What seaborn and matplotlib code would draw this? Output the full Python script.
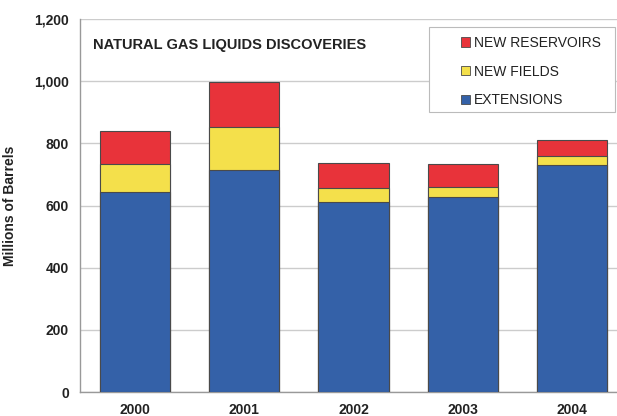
import numpy as np
import pandas as pd
import matplotlib
matplotlib.use("Agg")
import matplotlib.pyplot as plt
from matplotlib.patches import Patch, Rectangle
from matplotlib.ticker import FuncFormatter
import seaborn as sns

years = ["2000", "2001", "2002", "2003", "2004"]
extensions = [644, 715, 611, 627, 731]
new_fields = [90, 138, 46, 33, 27]
new_reservoirs = [105, 144, 79, 74, 54]

colors = {"EXTENSIONS": "#3461A8", "NEW FIELDS": "#F4E04B", "NEW RESERVOIRS": "#E8333A"}

df = pd.DataFrame({"year": years, "EXTENSIONS": extensions,
                   "NEW FIELDS": new_fields, "NEW RESERVOIRS": new_reservoirs})
df["top_fields"] = df["EXTENSIONS"] + df["NEW FIELDS"]
df["top_res"] = df["top_fields"] + df["NEW RESERVOIRS"]

sns.set_theme(style="white")
plt.rcParams['font.family'] = ['Liberation Sans', 'DejaVu Sans']

fig = plt.figure(figsize=(6.17, 4.16), dpi=100)
W, H = 617, 416
ax = fig.add_axes([80 / W, (H - 392) / H, 547 / W, (392 - 19) / H])

edge = "#4a4a4a"
for col, name in [("top_res", "NEW RESERVOIRS"), ("top_fields", "NEW FIELDS"), ("EXTENSIONS", "EXTENSIONS")]:
    sns.barplot(data=df, x="year", y=col, color=colors[name], saturation=1,
                width=0.64, edgecolor=edge, linewidth=0.8, ax=ax, zorder=3)

ax.set_ylim(0, 1200)
ax.set_xlim(-0.5, 4.5)
ax.set_yticks(np.arange(0, 1201, 200))
ax.yaxis.set_major_formatter(FuncFormatter(lambda v, p: f"{int(v):,}"))
ax.grid(axis="y", color="#cccccc", linewidth=1.0, zorder=0)
ax.set_axisbelow(True)
for s in ["top", "right"]:
    ax.spines[s].set_visible(False)
for s in ["left", "bottom"]:
    ax.spines[s].set_color("#999999")
    ax.spines[s].set_linewidth(1.0)

ax.tick_params(axis="both", labelsize=10, colors="#222222", length=0, pad=8)
for lbl in ax.get_xticklabels() + ax.get_yticklabels():
    lbl.set_fontweight("bold")
ax.set_xlabel("")
ax.set_ylabel("Millions of Barrels", fontsize=10, fontweight="bold", color="#222222", labelpad=12)

fig.text(93 / W, 1 - 45 / H, "NATURAL GAS LIQUIDS DISCOVERIES",
         fontsize=10.5, fontweight="bold", color="#222222", va="center", ha="left")

# legend frame
fig.patches.append(Rectangle((429 / W, 1 - 112 / H), 186 / W, 85 / H,
                             transform=fig.transFigure, facecolor="white",
                             edgecolor="#bbbbbb", linewidth=0.8, zorder=4))

names = ["NEW RESERVOIRS", "NEW FIELDS", "EXTENSIONS"]
handles = [Patch(facecolor=colors[n], edgecolor=edge, linewidth=0.6) for n in names]
leg = fig.legend(handles, names,
                 loc="upper left", bbox_to_anchor=(461 / W, 1 - 36 / H),
                 bbox_transform=fig.transFigure, frameon=False,
                 borderaxespad=0, borderpad=0, labelspacing=1.05,
                 handlelength=0.65, handleheight=0.65, handletextpad=0.25,
                 prop={"size": 10})
for t in leg.get_texts():
    t.set_color("#222222")
leg.set_zorder(10)

fig.savefig("out.png", dpi=100)
